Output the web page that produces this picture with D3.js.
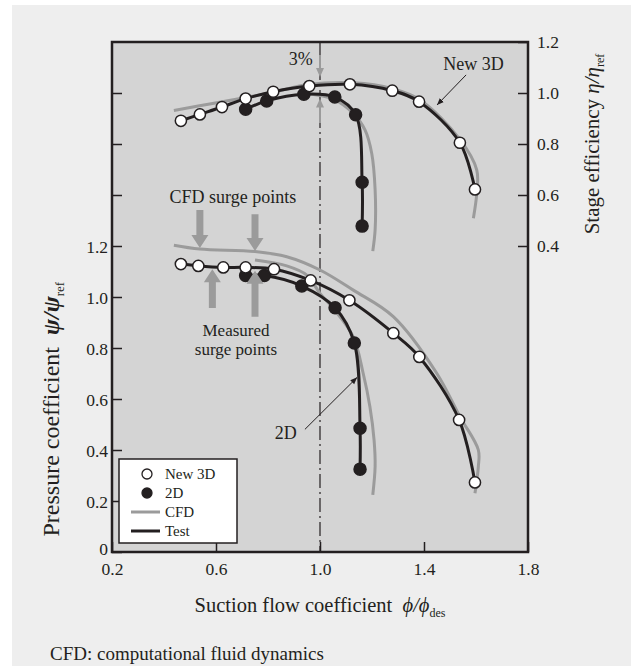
<!DOCTYPE html>
<html>
<head>
<meta charset="utf-8">
<script src="https://cdn.jsdelivr.net/npm/d3@7"></script>
<style>
  body { margin: 0; background: #fff; }
  svg text { font-family: "Liberation Serif", "DejaVu Serif", serif; fill: #231f20; }
</style>
</head>
<body>
<div id="chart"></div>
<script>
// tick values
var phiTicks = [0.2, 0.6, 1.0, 1.4, 1.8];
var psiTicks = [0, 0.2, 0.4, 0.6, 0.8, 1.0, 1.2, 1.4, 1.6, 1.8];
var etaTicks = [0.4, 0.6, 0.8, 1.0, 1.2];

// stage efficiency [phi, eta]
var new3dEtaTest = [[0.465,0.891],[0.538,0.916],[0.623,0.945],[0.714,0.978],[0.820,1.005],[0.959,1.027],[1.115,1.034],[1.278,1.009],[1.381,0.966],[1.538,0.805],[1.596,0.622]];
var twoDEtaTest = [[0.714,0.936],[0.795,0.969],[0.938,0.995],[1.057,0.984],[1.137,0.915],[1.162,0.650],[1.162,0.478]];
var new3dEtaCfd = [[0.438,0.931],[0.603,0.962],[0.714,0.982],[0.820,1.003],[0.959,1.034],[1.128,1.040],[1.278,1.017],[1.385,0.973],[1.538,0.818],[1.603,0.698],[1.603,0.607],[1.590,0.509]];
var twoDEtaCfd = [[0.938,0.999],[1.051,0.976],[1.128,0.920],[1.173,0.855],[1.199,0.763],[1.212,0.620],[1.212,0.463],[1.203,0.380]];

// pressure coefficient [phi, psi]
var new3dPsiTest = [[0.465,1.129],[0.532,1.122],[0.628,1.116],[0.714,1.116],[0.823,1.109],[0.964,1.065],[1.113,0.987],[1.282,0.858],[1.382,0.765],[1.535,0.518],[1.596,0.273]];
var twoDPsiTest = [[0.714,1.084],[0.786,1.084],[0.930,1.043],[1.058,0.958],[1.132,0.820],[1.154,0.485],[1.154,0.325]];
var new3dPsiCfd = [[0.438,1.203],[0.538,1.188],[0.750,1.178],[0.872,1.158],[1.0,1.106],[1.128,1.027],[1.282,0.923],[1.449,0.701],[1.538,0.531],[1.609,0.40],[1.609,0.335],[1.596,0.230]];
var twoDPsiCfd = [[0.750,1.145],[0.872,1.122],[0.949,1.086],[1.0,1.014],[1.051,0.955],[1.128,0.844],[1.166,0.701],[1.192,0.570],[1.208,0.439],[1.212,0.335],[1.203,0.224]];

// surge point arrows [phi, tail psi, tip psi]
var cfdSurge = [[0.538,1.341,1.192],[0.750,1.325,1.180]];
var measuredSurge = [[0.586,0.957,1.109],[0.750,0.923,1.103]];
// 3% arrows [phi, tail eta, tip eta]
var pctArrows = [[1.0,1.149,1.063],[1.0,0.882,0.978]];

var W = 631, H = 666;
var svg = d3.select("#chart").append("svg")
    .attr("width", W)
    .attr("height", H);

svg.append("rect")
    .attr("x", 12).attr("y", 5)
    .attr("width", W - 12).attr("height", H - 5)
    .attr("fill", "#eeeeee");

var x = d3.scaleLinear().domain([0.2, 1.8]).range([112, 528]);
var yP = d3.scaleLinear().domain([0, 2]).range([552, 42]);
var yE = d3.scaleLinear().domain([0, 1.2]).range([348, 42]);

var ink = "#231f20", grey = "#9b9b9b";

// plot background
svg.append("rect")
    .attr("x", x(0.2)).attr("y", yP(2))
    .attr("width", x(1.8) - x(0.2)).attr("height", yP(0) - yP(2))
    .attr("fill", "#d4d4d4");

// axes
var fmt = function(d) { return d == 0 ? "0" : d3.format(".1f")(d); };

var leftAxis = svg.append("g")
    .attr("transform", "translate(" + x(0.2) + ",0)")
    .call(d3.axisLeft(yP).tickValues(psiTicks).tickSizeInner(-10).tickSizeOuter(0).tickPadding(4)
      .tickFormat(function(d) { return d <= 1.2 ? fmt(d) : ""; }));

var rightAxis = svg.append("g")
    .attr("transform", "translate(" + x(1.8) + ",0)")
    .call(d3.axisRight(yE).tickValues(etaTicks).tickSizeInner(-10).tickSizeOuter(0).tickPadding(9)
      .tickFormat(fmt));

var bottomAxis = svg.append("g")
    .attr("transform", "translate(0," + yP(0) + ")")
    .call(d3.axisBottom(x).tickValues(phiTicks).tickSizeInner(-10).tickSizeOuter(0).tickPadding(11)
      .tickFormat(fmt));

[leftAxis, rightAxis, bottomAxis].forEach(function(a) {
  a.attr("font-family", null);
  a.select(".domain").remove();
  a.selectAll("line").attr("stroke", ink).attr("stroke-width", 1.5);
  a.selectAll("text").attr("font-size", 17.5).attr("fill", ink);
});
leftAxis.selectAll("text").attr("dy", function(d) { return d == 0 ? "0.12em" : "0.35em"; });

// design line
svg.append("line")
    .attr("x1", x(1.0)).attr("x2", x(1.0))
    .attr("y1", yP(2)).attr("y2", yP(0))
    .attr("stroke", ink).attr("stroke-width", 1.2)
    .attr("stroke-dasharray", "14,4,2,4");

// curves
var lineE = d3.line().x(function(d) { return x(d[0]); }).y(function(d) { return yE(d[1]); })
    .curve(d3.curveCatmullRom.alpha(0.5));
var lineP = d3.line().x(function(d) { return x(d[0]); }).y(function(d) { return yP(d[1]); })
    .curve(d3.curveCatmullRom.alpha(0.5));

[[new3dEtaCfd, lineE], [twoDEtaCfd, lineE], [new3dPsiCfd, lineP], [twoDPsiCfd, lineP]].forEach(function(s) {
  svg.append("path").attr("d", s[1](s[0]))
    .attr("fill", "none").attr("stroke", grey).attr("stroke-width", 3);
});

[[new3dEtaTest, lineE], [twoDEtaTest, lineE], [new3dPsiTest, lineP], [twoDPsiTest, lineP]].forEach(function(s) {
  svg.append("path").attr("d", s[1](s[0]))
    .attr("fill", "none").attr("stroke", ink).attr("stroke-width", 3);
});

// markers
function dots(data, yScale, filled) {
  svg.append("g").selectAll("circle")
      .data(data)
    .enter().append("circle")
      .attr("cx", function(d) { return x(d[0]); })
      .attr("cy", function(d) { return yScale(d[1]); })
      .attr("r", filled ? 6 : 5.6)
      .attr("fill", filled ? ink : "#fff")
      .attr("stroke", ink)
      .attr("stroke-width", 1.5);
}
dots(twoDEtaTest, yE, true);
dots(new3dEtaTest, yE, false);
dots(twoDPsiTest, yP, true);
dots(new3dPsiTest, yP, false);

// fat grey arrows
function fatArrow(px, ty, hy, stem, head, len) {
  var dir = hy > ty ? 1 : -1;
  var b = hy - dir * len;
  var p = [[px - stem, ty], [px + stem, ty], [px + stem, b], [px + head, b], [px, hy],
           [px - head, b], [px - stem, b]];
  svg.append("path").attr("d", "M" + p.join("L") + "Z").attr("fill", grey);
}
cfdSurge.forEach(function(a) { fatArrow(x(a[0]), yP(a[1]), yP(a[2]), 3.5, 8.5, 13); });
measuredSurge.forEach(function(a) { fatArrow(x(a[0]), yP(a[1]), yP(a[2]), 3.5, 8.5, 13); });
pctArrows.forEach(function(a) { fatArrow(x(a[0]), yE(a[1]), yE(a[2]), 1, 4, 9); });

// thin pointer arrows
svg.append("defs").append("marker")
    .attr("id", "tip").attr("viewBox", "0 0 10 10")
    .attr("refX", 10).attr("refY", 5)
    .attr("markerWidth", 7).attr("markerHeight", 7)
    .attr("orient", "auto")
  .append("path").attr("d", "M0,1L10,5L0,9Z").attr("fill", ink);

svg.append("line")
    .attr("x1", x(1.562)).attr("y1", yE(1.071))
    .attr("x2", x(1.450)).attr("y2", yE(0.953))
    .attr("stroke", ink).attr("stroke-width", 1).attr("marker-end", "url(#tip)");
svg.append("line")
    .attr("x1", x(0.942)).attr("y1", yP(0.481))
    .attr("x2", x(1.143)).attr("y2", yP(0.685))
    .attr("stroke", ink).attr("stroke-width", 1).attr("marker-end", "url(#tip)");

// annotations
function label(t, px, py, size) {
  return svg.append("text").attr("x", px).attr("y", py)
    .attr("text-anchor", "middle").attr("font-size", size || 18).text(t);
}
label("New 3D", x(1.590), yE(1.090));
label("3%", x(0.926), yE(1.110));
label("CFD surge points", x(0.665), yP(1.367));
label("2D", x(0.868), yP(0.442));
label("Measured", x(0.677), yP(0.848), 17);
label("surge points", x(0.677), yP(0.773), 17);

// frame
svg.append("rect")
    .attr("x", x(0.2)).attr("y", yP(2))
    .attr("width", x(1.8) - x(0.2)).attr("height", yP(0) - yP(2))
    .attr("fill", "none").attr("stroke", ink).attr("stroke-width", 2.5);

// legend
var lg = svg.append("g").attr("transform", "translate(119,459)");
lg.append("rect").attr("width", 118).attr("height", 84)
    .attr("fill", "#fff").attr("stroke", ink).attr("stroke-width", 1.5);
var legendItems = [["New 3D", "open"], ["2D", "filled"], ["CFD", "cfd"], ["Test", "test"]];
legendItems.forEach(function(it, i) {
  var cy = 15 + i * 19;
  if (it[1] == "open" || it[1] == "filled") {
    lg.append("circle").attr("cx", 28).attr("cy", cy).attr("r", 5)
      .attr("fill", it[1] == "filled" ? ink : "#fff")
      .attr("stroke", ink).attr("stroke-width", 1.3);
  } else {
    lg.append("line").attr("x1", 12).attr("x2", 41).attr("y1", cy).attr("y2", cy)
      .attr("stroke", it[1] == "cfd" ? grey : ink).attr("stroke-width", 3);
  }
  lg.append("text").attr("x", 46).attr("y", cy + 5).attr("font-size", 15).text(it[0]);
});

// axis titles
var xt = svg.append("text")
    .attr("x", x(1.0)).attr("y", 612)
    .attr("text-anchor", "middle").attr("font-size", 20.5);
xt.append("tspan").text("Suction flow coefficient\u2002");
xt.append("tspan").attr("font-style", "italic").text("\u03d5/\u03d5");
xt.append("tspan").attr("font-size", 12).attr("dy", 5).text("des");

var lt = svg.append("text")
    .attr("transform", "translate(59," + yP(0.56) + ") rotate(-90)")
    .attr("text-anchor", "middle").attr("font-size", 24);
lt.append("tspan").text("Pressure coefficient\u2002");
lt.append("tspan").attr("font-style", "italic").attr("font-weight", "bold").text("\u03c8/\u03c8");
lt.append("tspan").attr("font-size", 13).attr("dy", 5).text("ref");

var rt = svg.append("text")
    .attr("transform", "translate(599," + yE(0.80) + ") rotate(-90)")
    .attr("text-anchor", "middle").attr("font-size", 21);
rt.append("tspan").text("Stage efficiency ");
rt.append("tspan").attr("font-style", "italic").text("\u03b7/\u03b7");
rt.append("tspan").attr("font-size", 12).attr("dy", 5).text("ref");

// footnote
svg.append("text").attr("x", 50).attr("y", 660).attr("font-size", 19)
    .text("CFD: computational fluid dynamics");
</script>
</body>
</html>
